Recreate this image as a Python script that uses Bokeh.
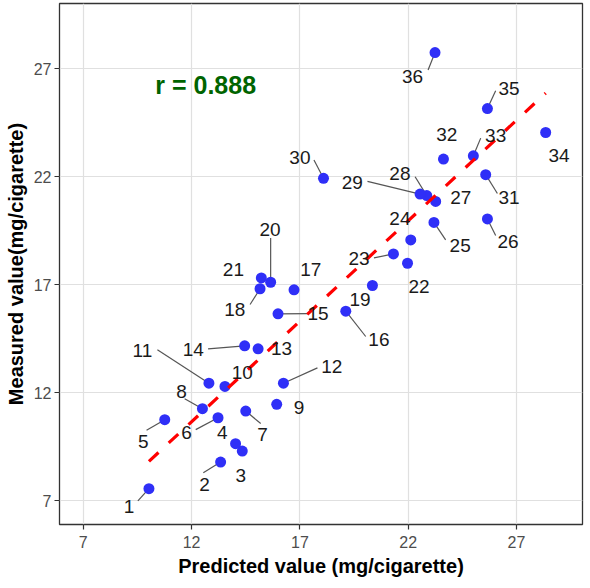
from bokeh.plotting import figure
from bokeh.models import Range1d, FixedTicker, ColumnDataSource
from bokeh.core.properties import value
from bokeh.embed import file_html
from bokeh.resources import INLINE

# ---- data ----
ids = list(range(1, 37))
predicted = [10.03, 13.34, 14.34, 14.03, 10.76, 13.22, 14.50, 12.50, 15.93, 13.54,
             12.80, 16.24, 15.07, 14.45, 15.99, 19.12, 16.73, 15.16, 20.35, 15.65,
             15.22, 21.97, 21.32, 22.12, 23.19, 25.66, 23.27, 22.86, 22.55, 18.09,
             25.58, 23.63, 25.01, 28.35, 25.66, 23.24]
measured = [7.57, 8.80, 9.31, 9.65, 10.76, 10.85, 11.16, 11.27, 11.47, 12.30,
            12.45, 12.45, 14.04, 14.18, 15.66, 15.78, 16.77, 16.82, 16.97, 17.12,
            17.32, 18.00, 18.43, 19.08, 19.89, 20.05, 20.86, 21.13, 21.20, 21.93,
            22.10, 22.82, 22.97, 24.05, 25.16, 27.75]

# repelled label positions (data units)
label_x = [9.11, 12.60, 14.27, 13.42, 9.77, 11.77, 15.27, 11.53, 16.96, 14.34,
           9.73, 18.47, 16.15, 12.08, 17.84, 20.65, 17.50, 13.99, 19.78, 15.62,
           13.93, 22.50, 19.73, 21.62, 24.40, 26.61, 24.43, 21.62, 19.42, 17.00,
           26.66, 23.78, 26.04, 28.97, 26.66, 22.20]
label_y = [6.72, 7.77, 8.19, 10.19, 9.77, 10.19, 10.08, 12.08, 11.34, 12.96,
           13.96, 13.22, 14.04, 14.00, 15.66, 14.46, 17.69, 15.84, 16.31, 19.54,
           17.69, 16.92, 18.20, 20.05, 18.82, 19.01, 21.02, 22.13, 21.74, 22.90,
           21.02, 23.98, 23.90, 22.97, 26.10, 26.63]

# leader segments: point id -> label-side end (data units)
seg_ids = [1, 2, 5, 6, 7, 8, 11, 12, 14, 15, 16, 18, 20, 23, 25, 26, 28, 29, 30, 31, 33, 35, 36]
seg_end_x = [9.52, 12.54, 9.92, 12.19, 15.19, 11.68, 10.42, 17.81, 12.76, 17.39, 20.04, 14.70,
             15.65, 20.42, 23.73, 26.04, 22.32, 20.12, 17.65, 26.12, 25.35, 26.04, 22.92]
seg_end_y = [7.00, 8.31, 10.27, 10.30, 10.58, 11.73, 14.00, 13.16, 14.04, 15.67, 14.61, 16.09,
             19.17, 18.25, 19.08, 19.28, 22.00, 21.79, 22.78, 21.23, 23.79, 25.98, 26.94]

# fitted regression line as drawn in the reference (y = slope * x + intercept)
fit_slope = 0.930
fit_intercept = -0.494

ticks = [7, 12, 17, 22, 27]
r_text = "r = 0.888"
x_title = "Predicted value (mg/cigarette)"
y_title = "Measured value(mg/cigarette)"

FONT = "Liberation Sans"

p = figure(width=590, height=588, output_backend="svg", toolbar_location=None,
           x_range=Range1d(5.9, 30.05), y_range=Range1d(5.91, 30.02),
           min_border_left=59, min_border_right=8, min_border_top=3, min_border_bottom=64)

p.background_fill_color = "white"
p.border_fill_color = "white"
p.outline_line_color = "#333333"
p.outline_line_width = 1.3

for ax in (p.xaxis[0], p.yaxis[0]):
    ax.ticker = FixedTicker(ticks=ticks)
    ax.axis_line_color = None
    ax.major_tick_line_color = "#333333"
    ax.major_tick_line_width = 1.2
    ax.major_tick_in = 0
    ax.major_tick_out = 5
    ax.minor_tick_line_color = None
    ax.major_label_text_font = FONT
    ax.major_label_text_font_size = "16px"
    ax.major_label_text_color = "#4D4D4D"
    ax.axis_label_text_font = FONT
    ax.axis_label_text_font_style = "bold"
    ax.axis_label_text_font_size = "20px"
    ax.axis_label_text_color = "black"

p.xaxis.axis_label = x_title
p.yaxis.axis_label = y_title
p.xaxis.major_label_standoff = 6
p.yaxis.major_label_standoff = 3
p.xaxis.axis_label_standoff = 4
p.yaxis.axis_label_standoff = 4

p.xgrid.ticker = FixedTicker(ticks=ticks)
p.ygrid.ticker = FixedTicker(ticks=ticks)
p.grid.grid_line_color = "#E0E0E0"
p.grid.grid_line_width = 1.2

# segments
idx = [i - 1 for i in seg_ids]
seg_src = ColumnDataSource(dict(x0=[predicted[i] for i in idx], y0=[measured[i] for i in idx],
                                x1=seg_end_x, y1=seg_end_y))
p.segment(x0="x0", y0="y0", x1="x1", y1="y1", source=seg_src, line_color="#555555", line_width=1.2)

# points
pts = ColumnDataSource(dict(x=predicted, y=measured))
p.scatter(x="x", y="y", source=pts, size=11, fill_color="#2F2FF7", line_color=None)

# regression line over the data x-range
fx = [min(predicted), max(predicted)]
fy = [fit_slope * v + fit_intercept for v in fx]
p.line(fx, fy, line_color="#FF0000", line_width=3.2, line_dash="13 14")

# labels
lab = ColumnDataSource(dict(x=label_x, y=label_y, t=[str(i) for i in ids]))
p.text(x="x", y="y", text="t", source=lab, text_align="center", text_baseline="middle",
       text_font=value(FONT), text_font_size="19px", text_color="#1A1A1A")

# r annotation
p.text(x=[12.65], y=[26.26], text=[r_text], text_align="center", text_baseline="middle",
       text_font=value(FONT), text_font_style="bold", text_font_size="25px", text_color="#006400")

open("out.html", "w").write(file_html(p, INLINE))
